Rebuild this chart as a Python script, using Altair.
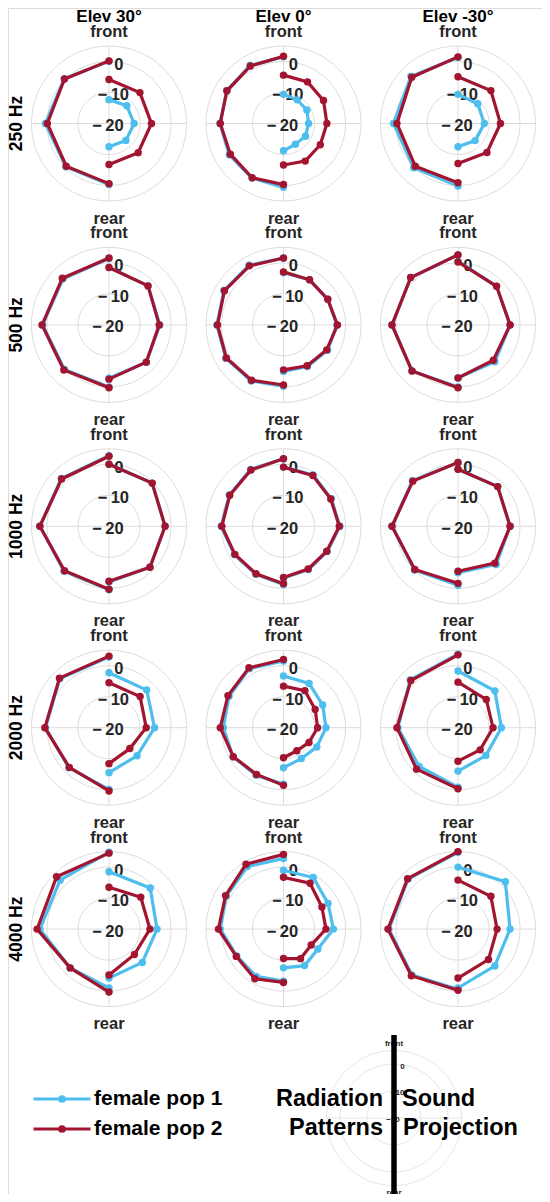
import altair as alt
import pandas as pd

# ---------------- categories ----------------
FREQS = ["250 Hz", "500 Hz", "1000 Hz", "2000 Hz", "4000 Hz"]
ELEVS = ["Elev 30°", "Elev 0°", "Elev -30°"]
POPS = ["female pop 1", "female pop 2"]
ANG_45 = [0, 45, 90, 135, 180]          # elevations +30 / -30
ANG_30 = [0, 30, 60, 90, 120, 150, 180]  # elevation 0

# ---------------- values (dB) ----------------
# rad  = left half  (radiation pattern), front -> rear
# proj = right half (sound projection),  front -> rear
# 250 Hz
pop1_rad_250_e30 = [0.1, 0.4, 0.5, -0.3, -0.3]
pop1_proj_250_e30 = [-12.3, -11.9, -11.9, -12.3, -12.5]
pop2_rad_250_e30 = [0.2, 0.3, -0.1, -0.5, -0.6]
pop2_proj_250_e30 = [-5.8, -5.9, -6.3, -6.7, -6.8]
pop1_rad_250_e0 = [1.5, 1.6, 1.1, 0.5, 0.2, 0.3, 0.6]
pop1_proj_250_e0 = [-10.6, -11.2, -11.3, -11.9, -11.8, -12.3, -11.2]
pop2_rad_250_e0 = [1.7, 1.4, 1.1, 0.4, -0.2, 0.2, -0.3]
pop2_proj_250_e0 = [-4.4, -4.5, -5.1, -6.0, -6.3, -6.0, -6.6]
pop1_rad_250_em30 = [1.3, 1.5, 0.8, 0.2, 0.2]
pop1_proj_250_em30 = [-10.6, -11.0, -11.5, -12.2, -12.5]
pop2_rad_250_em30 = [1.5, 1.1, -0.3, -0.5, -0.9]
pop2_proj_250_em30 = [-4.9, -5.0, -6.3, -6.8, -7.1]
# 500 Hz
pop1_rad_500_e30 = [1.4, 1.0, 1.4, 0.3, 0.0]
pop1_proj_500_e30 = [-1.5, -2.2, -3.6, -3.0, -2.8]
pop2_rad_500_e30 = [1.6, 1.3, 1.6, 0.6, 0.3]
pop2_proj_500_e30 = [-1.5, -2.2, -3.8, -3.0, -2.5]
pop1_rad_500_e0 = [1.6, 2.2, 2.2, 1.5, 1.5, 0.9, -0.2]
pop1_proj_500_e0 = [-3.2, -3.2, -3.5, -2.8, -3.6, -4.5, -5.0]
pop2_rad_500_e0 = [1.6, 2.0, 2.0, 1.3, 1.3, 0.6, -0.6]
pop2_proj_500_e0 = [-2.9, -3.2, -3.5, -2.6, -3.9, -4.8, -5.5]
pop1_rad_500_em30 = [2.6, 1.6, 1.3, 1.0, 0.0]
pop1_proj_500_em30 = [0.5, -2.4, -3.2, -3.2, -2.9]
pop2_rad_500_em30 = [2.6, 1.6, 1.3, 1.0, 0.3]
pop2_proj_500_em30 = [0.3, -2.4, -3.2, -3.9, -2.9]
# 1000 Hz
pop1_rad_1000_e30 = [2.8, 1.8, 2.3, 0.5, 0.5]
pop1_proj_1000_e30 = [0.0, -0.3, -1.9, -1.3, -2.0]
pop2_rad_1000_e30 = [2.6, 1.6, 2.3, 0.3, 0.3]
pop2_proj_1000_e30 = [0.0, -0.3, -1.9, -1.3, -2.3]
pop1_rad_1000_e0 = [1.8, 1.2, 0.2, 0.1, -1.7, -2.1, -1.2]
pop1_proj_1000_e0 = [-0.9, -0.9, -2.2, -1.8, -3.7, -3.9, -3.3]
pop2_rad_1000_e0 = [1.8, 1.0, 0.0, -0.1, -1.9, -2.3, -1.5]
pop2_proj_1000_e0 = [-0.9, -1.1, -2.4, -2.0, -3.9, -4.1, -3.5]
pop1_rad_1000_em30 = [0.6, 0.8, 1.3, -0.1, -1.0]
pop1_proj_1000_em30 = [-1.6, -1.9, -3.2, -2.6, -5.0]
pop2_rad_1000_em30 = [0.6, 0.6, 1.3, -0.3, -1.6]
pop2_proj_1000_em30 = [-1.6, -1.9, -3.2, -3.2, -5.5]
# 2000 Hz
pop1_rad_2000_e30 = [2.8, 2.4, 0.5, -1.7, -0.1]
pop1_proj_2000_e30 = [-2.3, -2.8, -5.3, -7.2, -5.5]
pop2_rad_2000_e30 = [3.1, 2.6, 0.7, -1.9, 0.4]
pop2_proj_2000_e30 = [-5.5, -5.8, -8.0, -10.5, -8.4]
pop1_rad_2000_e0 = [1.5, 2.0, 0.3, -0.6, -1.2, -2.3, -1.8]
pop1_proj_2000_e0 = [-3.3, -3.5, -5.4, -6.3, -7.6, -8.5, -7.1]
pop2_rad_2000_e0 = [2.0, 2.3, 0.7, 0.4, -1.3, -2.6, -1.4]
pop2_proj_2000_e0 = [-6.6, -6.2, -8.2, -9.0, -10.5, -11.4, -10.3]
pop1_rad_2000_em30 = [3.7, 1.8, -0.6, -2.3, -0.8]
pop1_proj_2000_em30 = [-1.7, -3.2, -6.0, -7.3, -6.0]
pop2_rad_2000_em30 = [3.5, 1.5, -0.3, -1.1, -0.3]
pop2_proj_2000_em30 = [-5.3, -7.1, -8.7, -9.9, -9.2]
# 4000 Hz
pop1_rad_4000_e30 = [4.8, 2.3, 2.3, -2.3, -1.0]
pop1_proj_4000_e30 = [-1.5, -1.2, -4.5, -4.8, -4.2]
pop2_rad_4000_e30 = [4.5, 3.9, 3.2, -2.3, 0.3]
pop2_proj_4000_e30 = [-6.5, -5.5, -6.8, -8.4, -5.2]
pop1_rad_4000_e0 = [2.8, 3.3, 1.3, 0.4, -2.6, -2.4, -3.2]
pop1_proj_4000_e0 = [-1.0, -0.8, -3.4, -3.9, -7.2, -6.4, -7.5]
pop2_rad_4000_e0 = [4.1, 4.2, 1.6, 1.0, -2.4, -1.5, -2.8]
pop2_proj_4000_e0 = [-3.3, -2.9, -5.7, -6.3, -9.7, -9.0, -10.5]
pop1_rad_4000_em30 = [4.8, 2.8, 2.3, 1.0, -0.6]
pop1_proj_4000_em30 = [0.0, 1.6, -3.2, -3.2, -1.0]
pop2_rad_4000_em30 = [5.0, 3.0, 2.6, 1.3, -0.3]
pop2_proj_4000_em30 = [-4.2, -5.0, -7.4, -6.1, -4.2]

PANELS = [
    ("250 Hz", "Elev 30°", ANG_45, pop1_rad_250_e30, pop1_proj_250_e30, pop2_rad_250_e30, pop2_proj_250_e30),
    ("250 Hz", "Elev 0°", ANG_30, pop1_rad_250_e0, pop1_proj_250_e0, pop2_rad_250_e0, pop2_proj_250_e0),
    ("250 Hz", "Elev -30°", ANG_45, pop1_rad_250_em30, pop1_proj_250_em30, pop2_rad_250_em30, pop2_proj_250_em30),
    ("500 Hz", "Elev 30°", ANG_45, pop1_rad_500_e30, pop1_proj_500_e30, pop2_rad_500_e30, pop2_proj_500_e30),
    ("500 Hz", "Elev 0°", ANG_30, pop1_rad_500_e0, pop1_proj_500_e0, pop2_rad_500_e0, pop2_proj_500_e0),
    ("500 Hz", "Elev -30°", ANG_45, pop1_rad_500_em30, pop1_proj_500_em30, pop2_rad_500_em30, pop2_proj_500_em30),
    ("1000 Hz", "Elev 30°", ANG_45, pop1_rad_1000_e30, pop1_proj_1000_e30, pop2_rad_1000_e30, pop2_proj_1000_e30),
    ("1000 Hz", "Elev 0°", ANG_30, pop1_rad_1000_e0, pop1_proj_1000_e0, pop2_rad_1000_e0, pop2_proj_1000_e0),
    ("1000 Hz", "Elev -30°", ANG_45, pop1_rad_1000_em30, pop1_proj_1000_em30, pop2_rad_1000_em30, pop2_proj_1000_em30),
    ("2000 Hz", "Elev 30°", ANG_45, pop1_rad_2000_e30, pop1_proj_2000_e30, pop2_rad_2000_e30, pop2_proj_2000_e30),
    ("2000 Hz", "Elev 0°", ANG_30, pop1_rad_2000_e0, pop1_proj_2000_e0, pop2_rad_2000_e0, pop2_proj_2000_e0),
    ("2000 Hz", "Elev -30°", ANG_45, pop1_rad_2000_em30, pop1_proj_2000_em30, pop2_rad_2000_em30, pop2_proj_2000_em30),
    ("4000 Hz", "Elev 30°", ANG_45, pop1_rad_4000_e30, pop1_proj_4000_e30, pop2_rad_4000_e30, pop2_proj_4000_e30),
    ("4000 Hz", "Elev 0°", ANG_30, pop1_rad_4000_e0, pop1_proj_4000_e0, pop2_rad_4000_e0, pop2_proj_4000_e0),
    ("4000 Hz", "Elev -30°", ANG_45, pop1_rad_4000_em30, pop1_proj_4000_em30, pop2_rad_4000_em30, pop2_proj_4000_em30),
]

rows = []
for f, e, angs, a1, b1, a2, b2 in PANELS:
    r, c = FREQS.index(f), ELEVS.index(e)
    for pop, rad, proj in ((POPS[0], a1, b1), (POPS[1], a2, b2)):
        for side, vals in (("rad", rad), ("proj", proj)):
            for ang, v in zip(angs, vals):
                rows.append(dict(freq=f, elev=e, row=r, col=c, pop=pop,
                                 side=side, angle=ang, db=v))
df = pd.DataFrame(rows)

# ---------------- layout / style ----------------
W, H = 534, 1186
CX0, DCX = 101, 174.5
CY0, DCY = 115.5, 201.4
PX = 3.1            # pixels per dB in the panels
RMIN = -20          # dB at the centre
BLUE, RED = "#4DBEEE", "#A2142F"
GRID = "#dcdcdc"
TXT = "#262626"
FONT = "Liberation Sans"

xs = alt.Scale(domain=[0, W], nice=False, zero=False)
ys = alt.Scale(domain=[0, H], nice=False, zero=False, reverse=True)
X = alt.X("px:Q", scale=xs, axis=None)
Y = alt.Y("py:Q", scale=ys, axis=None)
D2R = "PI / 180"

pan = alt.Chart(df).transform_aggregate(
    n="count()", groupby=["row", "col", "freq", "elev"]
).transform_calculate(
    cx=f"{CX0} + datum.col * {DCX}"
).transform_calculate(
    cy=f"{CY0} + datum.row * {DCY}"
)

rings = pan.transform_calculate(rr="[-10, 0, 5]").transform_flatten(["rr"]).transform_calculate(
    a="sequence(0, 361, 4)").transform_flatten(["a"]).transform_calculate(
    px=f"datum.cx + (datum.rr - ({RMIN})) * {PX} * sin(datum.a * {D2R})").transform_calculate(
    py=f"datum.cy - (datum.rr - ({RMIN})) * {PX} * cos(datum.a * {D2R})"
).mark_line(stroke=GRID, strokeWidth=1).encode(
    x=X, y=Y, detail=["row:O", "col:O", "rr:O"], order="a:Q")

RO = 25 * PX
spokes = pan.transform_calculate(sa="[0, 90]").transform_flatten(["sa"]).transform_calculate(
    e="[-1, 1]").transform_flatten(["e"]).transform_calculate(
    px=f"datum.cx + datum.e * {RO} * sin(datum.sa * {D2R})").transform_calculate(
    py=f"datum.cy - datum.e * {RO} * cos(datum.sa * {D2R})"
).mark_line(stroke=GRID, strokeWidth=1).encode(
    x=X, y=Y, detail=["row:O", "col:O", "sa:O"], order="e:Q")

rticks = pan.transform_calculate(
    tv="[0, -10, -20]", tl="['0', '−\u200910', '−\u200920']").transform_flatten(
    ["tv", "tl"]).transform_calculate(rp=f"(datum.tv - ({RMIN})) * {PX}").transform_calculate(
    px=f"datum.cx - 1 + datum.rp * sin(10 * {D2R})").transform_calculate(
    py=f"datum.cy + 2.5 - datum.rp * cos(10 * {D2R})"
).mark_text(font=FONT, fontSize=16.5, fontWeight="bold", color=TXT,
            align="center", baseline="middle").encode(x=X, y=Y, text="tl:N")

frontrear = pan.transform_calculate(lab="['front', 'rear']", off="[-86.5, 100]").transform_flatten(
    ["lab", "off"]).transform_calculate(px="datum.cx").transform_calculate(
    py="datum.cy + datum.off"
).mark_text(font=FONT, fontSize=16.5, fontWeight="bold", color=TXT,
            align="center", baseline="alphabetic").encode(x=X, y=Y, text="lab:N")

coltitles = pan.transform_filter("datum.row == 0").transform_calculate(
    px="datum.cx").transform_calculate(py="datum.cy - 102").mark_text(
    font=FONT, fontSize=17, fontWeight="bold", color="#000000",
    align="center", baseline="alphabetic").encode(x=X, y=Y, text="elev:N")

rowtitles = pan.transform_filter("datum.col == 0").transform_calculate(
    px="datum.cx - 92").transform_calculate(py="datum.cy").mark_text(
    font=FONT, fontSize=17.5, fontWeight="bold", color="#000000", angle=270,
    align="center", baseline="middle").encode(x=X, y=Y, text="freq:N")

# ---------------- data series ----------------
series = alt.Chart(df).transform_calculate(
    cx=f"{CX0} + datum.col * {DCX}").transform_calculate(
    cy=f"{CY0} + datum.row * {DCY}").transform_calculate(
    rp=f"(datum.db - ({RMIN})) * {PX}").transform_calculate(
    sg="datum.side == 'rad' ? -1 : 1").transform_calculate(
    px=f"datum.cx + datum.sg * datum.rp * sin(datum.angle * {D2R})").transform_calculate(
    py=f"datum.cy - datum.rp * cos(datum.angle * {D2R})")

cscale = alt.Scale(domain=POPS, range=[BLUE, RED])
LEG_PATH = ("M-5.7,0H5.7M0.45,0A0.45,0.45,0,1,1,-0.45,0A0.45,0.45,0,1,1,0.45,0"
            "M0.15,0A0.15,0.15,0,1,1,-0.15,0A0.15,0.15,0,1,1,0.15,0")
legend = alt.Legend(title=None, orient="none", legendX=43.5, legendY=1080.5,
                    symbolType=LEG_PATH, symbolSize=100, symbolStrokeWidth=3.2,
                    labelFont=FONT, labelFontSize=21, labelFontWeight="bold",
                    labelColor="#000000", labelOffset=21.5, rowPadding=8, padding=0,
                    labelLimit=300)

data_layers = []
for pop in POPS:
    s = series.transform_filter(alt.datum.pop == pop)
    data_layers.append(s.mark_line(strokeWidth=3.2).encode(
        x=X, y=Y, color=alt.Color("pop:N", scale=cscale, legend=legend),
        detail=["row:O", "col:O", "side:N"], order="angle:Q"))
    data_layers.append(s.mark_circle(size=55, opacity=1).encode(
        x=X, y=Y, color=alt.Color("pop:N", scale=cscale, legend=None)))

# ---------------- key diagram (bottom right) ----------------
MCX, MCY, MPX = 386, 1110, 2.7
one = alt.Chart(df).transform_aggregate(n="count()")

mrings = one.transform_calculate(rr="[-10, 0, 5]").transform_flatten(["rr"]).transform_calculate(
    a="sequence(0, 361, 4)").transform_flatten(["a"]).transform_calculate(
    px=f"{MCX} + (datum.rr - ({RMIN})) * {MPX} * sin(datum.a * {D2R})").transform_calculate(
    py=f"{MCY} - (datum.rr - ({RMIN})) * {MPX} * cos(datum.a * {D2R})"
).mark_line(stroke="#e6e6e6", strokeWidth=1).encode(x=X, y=Y, detail="rr:O", order="a:Q")

mspoke = one.transform_calculate(e="[-1, 1]").transform_flatten(["e"]).transform_calculate(
    px=f"{MCX} + datum.e * {25 * MPX}").transform_calculate(py=f"{MCY}").mark_line(
    stroke="#e6e6e6", strokeWidth=1).encode(x=X, y=Y, order="e:Q")

mticks = one.transform_calculate(tv="[0, -10, -20]", tl="['0', '−10', '−20']").transform_flatten(
    ["tv", "tl"]).transform_calculate(rp=f"(datum.tv - ({RMIN})) * {MPX}").transform_calculate(
    px=f"{MCX} - 1 + datum.rp * sin(10 * {D2R})").transform_calculate(
    py=f"{MCY} + 2 - datum.rp * cos(10 * {D2R})"
).mark_text(font=FONT, fontSize=8, fontWeight="bold", color=TXT,
            align="center", baseline="middle").encode(x=X, y=Y, text="tl:N")

mfr = one.transform_calculate(lab="['front', 'rear']", off="[-72, 77]").transform_flatten(
    ["lab", "off"]).transform_calculate(px=f"{MCX}").transform_calculate(
    py=f"{MCY} + datum.off").mark_text(font=FONT, fontSize=8, fontWeight="bold",
                                       color=TXT, align="center", baseline="alphabetic").encode(
    x=X, y=Y, text="lab:N")

mbar = one.transform_calculate(e="[-1, 1]").transform_flatten(["e"]).transform_calculate(
    px=f"{MCX}").transform_calculate(py=f"{MCY} + datum.e * 83").mark_line(
    stroke="#000000", strokeWidth=5.5, strokeCap="butt").encode(x=X, y=Y, order="e:Q")

def key_text(txt, dx, dy, align):
    return one.transform_calculate(px=f"{MCX + dx}").transform_calculate(
        py=f"{MCY + dy}").mark_text(
        text=txt, font=FONT, fontSize=23.5, fontWeight="bold", color="#000000",
        align=align, baseline="middle").encode(x=X, y=Y)

ktexts = [key_text("Radiation", -11, -19, "right"), key_text("Patterns", -11, 10, "right"),
          key_text("Sound", 8, -19, "left"), key_text("Projection", 9, 10, "left")]

chart = alt.layer(
    rings, spokes, rticks, frontrear, coltitles, rowtitles,
    *data_layers,
    mrings, mspoke, mticks, mfr, *ktexts, mbar,
).properties(
    width=W, height=H, padding=0, autosize=alt.AutoSizeParams(type="none"),
).configure_view(stroke=None).configure(background="white")

chart.save("out.html", embed_options={"renderer": "svg", "actions": False})
